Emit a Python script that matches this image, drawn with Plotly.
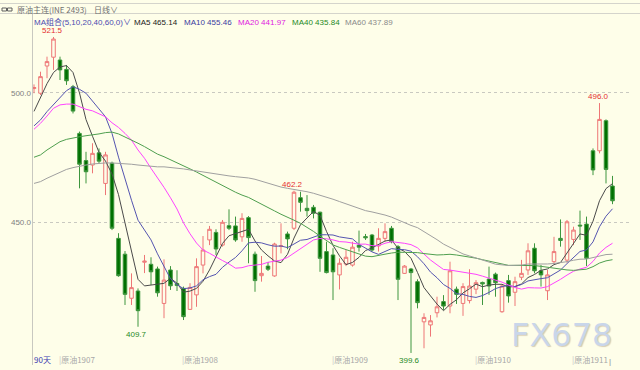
import plotly.graph_objects as go
import pandas as pd

# ---------------- data ----------------
opens = [501.6, 499.8, 510.3, 513.7, 512.6, 509.0, 502.3, 484.3, 473.8, 472.1,
         476.8, 465.0, 472.8, 443.8, 437.7, 420.7, 423.5, 434.6, 433.8, 432.0,
         418.7, 431.6, 426.4, 424.5, 416.4, 422.0, 433.5, 443.2, 446.1, 441.2,
         448.7, 448.6, 444.4, 451.8, 437.7, 429.4, 433.1, 429.3, 440.7, 445.5,
         447.7, 459.5, 455.4, 455.8, 453.9, 438.7, 437.4, 429.7, 433.9, 433.5,
         441.2, 444.5, 445.1, 440.9, 443.8, 447.7, 440.6, 430.3, 432.0, 427.1,
         411.6, 410.4, 415.1, 419.4, 417.7, 424.2, 418.7, 419.8, 424.2, 426.8,
         428.1, 430.0, 415.5, 427.5, 423.0, 428.8, 431.6, 440.0, 431.3, 423.6,
         434.8, 443.8, 435.4, 443.4, 448.9, 449.3, 477.6, 477.6, 489.2, 464.0]
highs = [503.2, 508.1, 513.9, 521.5, 513.9, 510.7, 503.0, 485.0, 477.2, 480.5,
         478.5, 477.2, 473.4, 445.8, 438.9, 430.3, 424.5, 437.4, 436.5, 432.9,
         435.7, 433.1, 431.5, 425.2, 426.5, 436.1, 444.7, 448.6, 447.3, 450.9,
         455.0, 452.2, 453.5, 452.4, 438.7, 437.0, 434.7, 442.1, 449.6, 446.4,
         462.2, 461.8, 460.5, 456.7, 454.1, 442.5, 440.0, 436.1, 439.3, 442.5,
         446.8, 445.5, 445.5, 447.7, 449.6, 448.6, 441.2, 433.5, 432.4, 428.0,
         414.9, 414.2, 421.3, 421.9, 434.8, 425.2, 426.5, 431.9, 427.7, 427.1,
         432.9, 430.6, 425.8, 429.7, 429.0, 435.5, 441.9, 441.9, 433.5, 431.6,
         444.4, 451.1, 450.9, 448.3, 454.5, 452.2, 478.5, 496.0, 489.7, 467.9]
lows = [499.8, 499.1, 505.6, 508.8, 504.9, 503.0, 492.0, 463.1, 465.0, 468.9,
        472.8, 460.5, 447.0, 429.0, 418.1, 418.1, 409.7, 430.4, 425.8, 421.3,
        413.0, 423.9, 423.5, 412.3, 416.2, 417.4, 430.3, 441.2, 437.4, 440.6,
        447.0, 442.5, 442.5, 434.2, 423.2, 427.1, 431.2, 429.0, 438.0, 439.6,
        447.0, 454.1, 452.2, 451.5, 430.9, 430.3, 420.0, 424.1, 433.1, 432.9,
        438.7, 443.2, 438.7, 438.7, 442.5, 441.9, 420.0, 430.1, 399.6, 416.8,
        401.4, 405.9, 413.3, 416.2, 414.9, 418.5, 413.9, 418.7, 422.3, 418.1,
        422.0, 421.3, 415.1, 419.0, 417.7, 427.7, 429.7, 430.3, 425.2, 420.0,
        434.2, 440.6, 434.4, 441.2, 443.2, 433.1, 468.2, 476.6, 465.0, 457.0]
closes = [502.0, 506.2, 512.0, 520.7, 508.8, 504.6, 492.9, 472.4, 469.5, 476.6,
          473.6, 476.0, 447.7, 429.4, 422.2, 424.8, 415.9, 435.0, 430.9, 422.8,
          427.7, 425.5, 425.6, 413.6, 424.9, 432.9, 439.3, 447.3, 439.7, 450.0,
          447.7, 443.2, 451.5, 444.1, 427.5, 430.3, 431.9, 441.6, 440.9, 443.6,
          461.6, 457.7, 454.5, 453.5, 436.1, 430.6, 430.9, 434.2, 436.5, 440.4,
          440.4, 444.0, 439.3, 443.8, 446.4, 442.5, 428.0, 433.1, 430.6, 419.0,
          413.3, 412.0, 417.4, 417.7, 431.3, 422.2, 425.2, 425.4, 426.7, 426.2,
          425.4, 426.7, 425.4, 421.6, 427.1, 430.3, 439.0, 431.3, 429.7, 429.7,
          438.7, 443.0, 450.2, 447.0, 448.6, 436.1, 470.2, 489.7, 470.4, 458.3]
days = list(range(len(closes)))

# moving-average values visible before enough in-window days exist
ma5_head = [492.8, 498.0, 503.5, 507.8]
ma10_head = [487.2, 489.5, 492.7, 495.3, 497.8, 500.8, 502.3, 501.3, 499.8]
ma20_head = [485.9, 488.2, 491.0, 494.0, 495.3, 495.6, 495.6, 494.6, 493.6, 493.0,
             492.0, 490.7, 488.4, 486.6, 484.3, 481.7, 477.9, 474.7, 470.8]
ma40_head = [475.1, 476.0, 477.9, 479.4, 481.1, 482.0, 482.6, 483.0, 483.4, 483.7,
             484.1, 484.6, 484.8, 484.1, 483.0, 481.7, 480.5, 479.2, 477.6, 476.3,
             475.3, 474.2, 473.0, 471.8, 470.6, 469.4, 468.1, 466.7, 465.3, 464.0,
             462.7, 461.6, 460.5, 459.6, 458.3, 457.1, 455.6, 454.4, 453.1]
ma60_head = [465.0, 465.7, 467.0, 468.2, 469.5, 470.4, 471.1, 471.7, 472.1, 472.5,
             472.8, 472.9, 472.9, 472.8, 472.5, 472.4, 472.1, 471.8, 471.7, 471.4,
             471.4, 471.2, 470.9, 470.6, 470.2, 469.8, 469.3, 468.9, 468.5, 468.1,
             467.9, 467.6, 467.4, 467.1, 466.6, 465.8, 465.0, 464.3, 463.6, 463.1,
             462.7, 462.3, 461.8, 461.2, 460.5, 459.8, 458.9, 458.0, 457.1, 456.0,
             455.1, 454.5, 454.0, 453.5, 452.8, 452.0, 450.9, 449.8, 448.8]

ma_periods = [5, 10, 20, 40, 60]
ma_heads = [ma5_head, ma10_head, ma20_head, ma40_head, ma60_head]
ma_legend = ["MA5 465.14", "MA10 455.46", "MA20 441.97", "MA40 435.84", "MA60 437.89"]

# y-axis ticks
y_ticks = [450, 500]
y_tick_labels = ["450.0", "500.0"]

# contract month markers (first day index of each) and labels
month_idx = [4, 23, 46, 68, 83]
month_labels = ["原油1907", "原油1908", "原油1909", "原油1910", "原油1911"]

# extreme-value labels
extreme_idx = [3, 16, 40, 58, 87]
extreme_val = [521.5, 409.7, 462.2, 399.6, 496.0]
extreme_is_high = [True, False, True, False, True]

# ---------------- styling ----------------
BG = "#fefee9"
W, H = 640, 370
ML, MR, MT, MB = 32, 8, 14, 14
PW, PH = W - ML - MR, H - MT - MB
MA_COLORS = ["#4a4a4a", "#5555b0", "#ff44ff", "#4f9f4f", "#a0a0a0"]
MA_TEXT_COLORS = ["#1a1a1a", "#3a3aa0", "#e020e0", "#1f8a1f", "#8a8a8a"]
UP = "#ee7676"
DOWN_FILL = "#007000"
DOWN_LINE = "#3e963e"
FONT = "Liberation Sans, Noto Sans CJK SC, sans-serif"
CJK = "Noto Sans CJK SC, sans-serif"


def px_x(px):
    return (px - ML) / PW


def px_y(py):
    return (H - MB - py) / PH


def moving_average(vals, n, head):
    s = pd.Series(vals).rolling(n).mean().tolist()
    return head + s[n - 1:]


fig = go.Figure()
fig.add_trace(go.Candlestick(
    x=days, open=opens, high=highs, low=lows, close=closes,
    increasing=dict(line=dict(color=UP, width=1), fillcolor=BG),
    decreasing=dict(line=dict(color=DOWN_LINE, width=1), fillcolor=DOWN_FILL),
    whiskerwidth=0, hoverinfo="skip", showlegend=False,
))

for n, head, col in zip(ma_periods, ma_heads, MA_COLORS):
    fig.add_trace(go.Scatter(
        x=days, y=moving_average(closes, n, head), mode="lines",
        line=dict(color=col, width=1), hoverinfo="skip", showlegend=False,
    ))

ann = []
# header
ann.append(dict(xref="paper", yref="paper", x=px_x(15), y=px_y(9.5), xanchor="left", yanchor="middle",
                text="原油主连(INE 2493)", showarrow=False, font=dict(family=CJK, size=8, color="#707070")))
ann.append(dict(xref="paper", yref="paper", x=px_x(92), y=px_y(9.5), xanchor="left", yanchor="middle",
                text="日线∨", showarrow=False, font=dict(family=CJK, size=8, color="#707070")))
# MA legend row
ann.append(dict(xref="paper", yref="paper", x=px_x(32), y=px_y(22), xanchor="left", yanchor="middle",
                text="MA组合(5,10,20,40,60,0)∨", showarrow=False,
                font=dict(family=FONT, size=8, color="#4a4ab0")))
legend_x = [132, 182, 236, 290, 343]
for txt, col, lx in zip(ma_legend, MA_TEXT_COLORS, legend_x):
    ann.append(dict(xref="paper", yref="paper", x=px_x(lx), y=px_y(22), xanchor="left", yanchor="middle",
                    text=txt, showarrow=False, font=dict(family=FONT, size=8, color=col)))
# extreme labels
for i, v, hi in zip(extreme_idx, extreme_val, extreme_is_high):
    ann.append(dict(x=i - 0.2, y=v, xanchor="center", yanchor="bottom" if hi else "top",
                    yshift=0 if hi else -1, text=f"{v:.1f}", showarrow=False,
                    font=dict(family=FONT, size=8, color="#e43030" if hi else "#1f8a1f")))
# bottom labels
ann.append(dict(xref="paper", yref="paper", x=px_x(32), y=px_y(359.5), xanchor="left", yanchor="middle",
                text="90天", showarrow=False, font=dict(family=CJK, size=8, color="#3a3ab0")))
for i, lab in zip(month_idx, month_labels):
    ann.append(dict(xref="x", yref="paper", x=i - 0.5, y=px_y(360), xanchor="left", yanchor="middle",
                    text=f'<span style="color:#c4c4c4">|</span>{lab}', showarrow=False,
                    font=dict(family=CJK, size=8, color="#a8a8a8")))
ann.append(dict(xref="paper", yref="paper", x=px_x(610), y=px_y(361), xanchor="center", yanchor="middle",
                text="|", showarrow=False, font=dict(family=FONT, size=8, color="#909090")))
# watermark
ann.append(dict(xref="paper", yref="paper", x=px_x(561), y=px_y(335), xanchor="center", yanchor="middle",
                text="FX678", showarrow=False,
                font=dict(family="DejaVu Sans", size=32, color="#c9d6ea", shadow="1px 1px 1px #d8ceb4")))

shapes = [
    dict(type="line", xref="paper", yref="paper", x0=px_x(0), x1=px_x(640), y0=px_y(3.5), y1=px_y(3.5),
         line=dict(color="#d4d4cc", width=1)),
    dict(type="line", xref="paper", yref="paper", x0=px_x(0), x1=px_x(640), y0=px_y(13.5), y1=px_y(13.5),
         line=dict(color="#d4d4cc", width=1)),
    dict(type="line", xref="paper", yref="paper", x0=px_x(32.5), x1=px_x(32.5), y0=px_y(13.5), y1=px_y(365),
         line=dict(color="#c8c8c0", width=1)),
    # small link icon
    dict(type="rect", xref="paper", yref="paper", x0=px_x(2), x1=px_x(6.5), y0=px_y(8), y1=px_y(11),
         line=dict(color="#606060", width=1)),
    dict(type="rect", xref="paper", yref="paper", x0=px_x(7.5), x1=px_x(12), y0=px_y(8), y1=px_y(11),
         line=dict(color="#606060", width=1)),
]

y_bottom = 500 - (H - MB - 92.7) / 2.592
y_top = 500 + (92.7 - MT) / 2.592

fig.update_layout(
    width=W, height=H, margin=dict(l=ML, r=MR, t=MT, b=MB, autoexpand=False),
    paper_bgcolor=BG, plot_bgcolor=BG, showlegend=False, hovermode=False,
    boxgap=0.22,
    xaxis=dict(range=[(ML - 34) / 6.5, (ML + PW - 34) / 6.5], visible=False,
               rangeslider=dict(visible=False), fixedrange=True),
    yaxis=dict(range=[y_bottom, y_top], tickvals=y_ticks, ticktext=y_tick_labels,
               showgrid=True, gridcolor="#c9c9c0", griddash="dot", gridwidth=1,
               zeroline=False, showline=False, ticks="", automargin=False,
               tickfont=dict(family=FONT, size=8, color="#808080"), fixedrange=True),
    annotations=ann, shapes=shapes,
)

fig.write_html(
    "out.html",
    config={"displayModeBar": False, "staticPlot": True},
    post_script="document.body.style.margin='0';document.body.style.background='%s';"
                "document.body.style.overflow='hidden';" % BG,
)
